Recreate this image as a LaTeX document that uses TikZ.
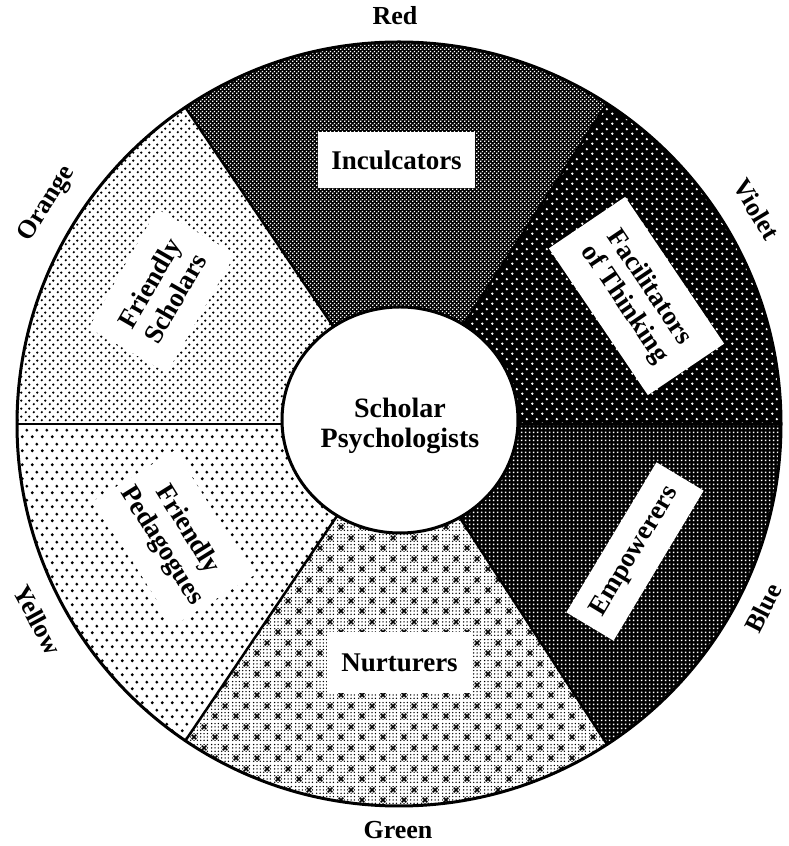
\documentclass[tikz,border=0pt]{standalone}
\usepackage{fontspec}
\setmainfont{Liberation Serif}
\usetikzlibrary{patterns,calc}

% Inculcators: fine white dots on black
\pgfdeclarepatternformonly{redpat}{\pgfqpoint{0pt}{0pt}}{\pgfqpoint{4pt}{4pt}}{\pgfqpoint{4pt}{4pt}}{%
  \pgfpathrectangle{\pgfqpoint{0.2pt}{0.2pt}}{\pgfqpoint{1.6pt}{1.6pt}}%
  \pgfpathrectangle{\pgfqpoint{2.2pt}{2.2pt}}{\pgfqpoint{1.6pt}{1.6pt}}%
  \pgfusepath{fill}}
% Facilitators: sparse white dots on black
\pgfdeclarepatternformonly{violetpat}{\pgfqpoint{0pt}{0pt}}{\pgfqpoint{10pt}{10pt}}{\pgfqpoint{10pt}{10pt}}{%
  \pgfpathcircle{\pgfqpoint{2.5pt}{2.5pt}}{1.4pt}%
  \pgfpathcircle{\pgfqpoint{7.5pt}{7.5pt}}{1.4pt}%
  \pgfusepath{fill}}
% Empowerers: square grid of white dots on black
\pgfdeclarepatternformonly{bluepat}{\pgfqpoint{0pt}{0pt}}{\pgfqpoint{4pt}{4pt}}{\pgfqpoint{4pt}{4pt}}{%
  \pgfpathrectangle{\pgfqpoint{1pt}{1pt}}{\pgfqpoint{2pt}{2pt}}%
  \pgfusepath{fill}}
% Nurturers: small dot grid with crosses
\pgfdeclarepatternformonly{greenpat}{\pgfqpoint{0pt}{0pt}}{\pgfqpoint{21pt}{21pt}}{\pgfqpoint{21pt}{21pt}}{%
  \foreach \i in {0,...,5}{\foreach \j in {0,...,5}{%
    \pgfpathcircle{\pgfpoint{1.75pt+3.5pt*\i}{1.75pt+3.5pt*\j}}{0.8pt}\pgfusepath{fill}}}%
  \pgfsetlinewidth{1.6pt}%
  \pgfpathmoveto{\pgfqpoint{2.8pt}{2.8pt}}\pgfpathlineto{\pgfqpoint{7.7pt}{7.7pt}}%
  \pgfpathmoveto{\pgfqpoint{2.8pt}{7.7pt}}\pgfpathlineto{\pgfqpoint{7.7pt}{2.8pt}}%
  \pgfpathmoveto{\pgfqpoint{13.3pt}{13.3pt}}\pgfpathlineto{\pgfqpoint{18.2pt}{18.2pt}}%
  \pgfpathmoveto{\pgfqpoint{13.3pt}{18.2pt}}\pgfpathlineto{\pgfqpoint{18.2pt}{13.3pt}}%
  \pgfusepath{stroke}}
% Friendly Pedagogues: sparse black dots
\pgfdeclarepatternformonly{yellowpat}{\pgfqpoint{0pt}{0pt}}{\pgfqpoint{10pt}{14pt}}{\pgfqpoint{10pt}{14pt}}{%
  \pgfpathcircle{\pgfqpoint{2.5pt}{3.5pt}}{1.7pt}%
  \pgfpathcircle{\pgfqpoint{7.5pt}{10.5pt}}{1.7pt}%
  \pgfusepath{fill}}
% Friendly Scholars: denser black dots
\pgfdeclarepatternformonly{orangepat}{\pgfqpoint{0pt}{0pt}}{\pgfqpoint{8pt}{8pt}}{\pgfqpoint{8pt}{8pt}}{%
  \pgfpathcircle{\pgfqpoint{2pt}{2pt}}{1.4pt}%
  \pgfpathcircle{\pgfqpoint{6pt}{6pt}}{1.4pt}%
  \pgfusepath{fill}}

\tikzset{
  lab/.style={fill=white, font=\fontsize{27}{30}\selectfont\bfseries, align=center, inner sep=0pt},
  outerlab/.style={font=\fontsize{26}{28}\selectfont\bfseries, inner sep=0pt},
  sepline/.style={line width=2.5pt},
}

\begin{document}
\begin{tikzpicture}[x=1pt,y=1pt]
\useasboundingbox (0,0) rectangle (789,846);
\fill[white] (0,0) rectangle (789,846);
\coordinate (O) at (399,422);

% sectors
\foreach \a/\b/\pat/\bg/\fg in {0/57/violetpat/black/white,
                                57/124/redpat/black/white,
                                124/180/orangepat/white/black,
                                180/236/yellowpat/white/black,
                                236/303/greenpat/white/black,
                                303/360/bluepat/black/white}{
  \fill[\bg] (O) -- ++(\a:382pt) arc[start angle=\a, end angle=\b, radius=382pt] -- cycle;
  \fill[pattern=\pat, pattern color=\fg] (O) -- ++(\a:382pt) arc[start angle=\a, end angle=\b, radius=382pt] -- cycle;
}
\foreach \a in {0,57,124,180,236,303}
  \draw[sepline] (O) -- ++(\a:382pt);
\draw[line width=3pt] (O) circle[radius=382pt];

% centre
\draw[line width=3pt, fill=white] (400,426) ellipse[x radius=118pt, y radius=113pt];
\node[font=\fontsize{28}{30}\selectfont\bfseries, align=center] (sp) at (400,420.5) {Scholar\\Psychologists};

% sector labels
\node[lab, minimum width=157pt, minimum height=56pt] (inc) at (396.5,686) {Inculcators};
\node[lab, minimum width=177pt, minimum height=92pt, rotate=-56] (fac) at (636.5,550) {Facilitators\\of Thinking};
\node[lab, minimum width=175pt, minimum height=55pt, rotate=59] (emp) at (635,294.5) {Empowerers};
\node[lab, minimum width=145pt, minimum height=61pt] (nur) at (399.5,183.5) {Nurturers};
\node[lab, minimum width=137pt, minimum height=90pt, rotate=60] (fs) at (162,555) {Friendly\\Scholars};
\node[lab, minimum width=148pt, minimum height=95pt, rotate=-58] (fp) at (174,308) {Friendly\\Pedagogues};

% colour names
\node[outerlab] (lred) at (395,830) {Red};
\node[outerlab] (lgreen) at (398,16) {Green};
\node[outerlab, rotate=58] (lorange) at ($(O)+(148:415pt)$) {Orange};
\node[outerlab, rotate=-59] (lviolet) at ($(O)+(31:417pt)$) {Violet};
\node[outerlab, rotate=-61.5] (lyellow) at ($(O)+(208.5:411pt)$) {Yellow};
\node[outerlab, rotate=63] (lblue) at ($(O)+(-26.8:408pt)$) {Blue};
\end{tikzpicture}
\end{document}
